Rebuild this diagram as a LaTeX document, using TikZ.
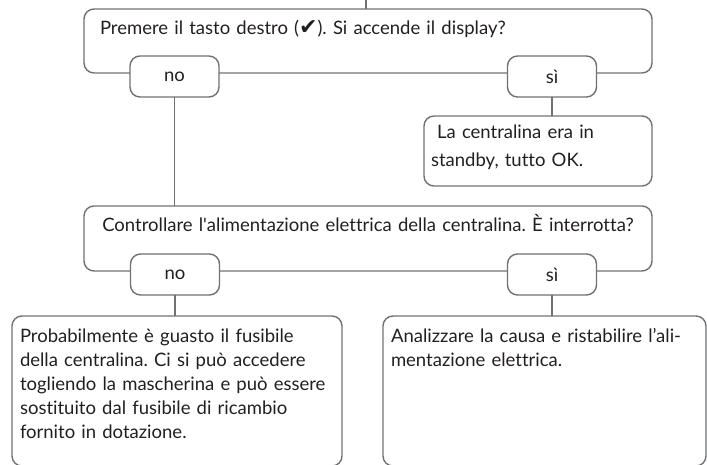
\documentclass[tikz,border=0pt]{standalone}
\usepackage{fontspec}
\setmainfont{Lato}[Ligatures={TeX,NoCommon}]
\newfontfamily\checkfont{DejaVu Sans}
\usepackage{xcolor}
\definecolor{flowgray}{HTML}{707173}
\definecolor{flowtext}{HTML}{231F20}
\tikzset{every node/.style={font=\fontsize{18.5}{24}\selectfont, text=flowtext}}
\frenchspacing

\begin{document}
\begin{tikzpicture}[
    x=1pt, y=-1pt,
    panel/.style={draw=flowgray, line width=1.4pt, rounded corners=10pt,
      anchor=north west, outer sep=0pt, inner xsep=16pt, inner ysep=12pt,
      text height=14pt, align=left},
    answer/.style={draw=flowgray, fill=white, line width=1.4pt,
      rounded corners=10pt, minimum width=89pt, minimum height=41pt,
      inner sep=0pt, outer sep=0pt},
    link/.style={draw=flowgray, line width=1.4pt},
  ]
  \useasboundingbox (0,0) rectangle (707,465);
  \clip (0,0) rectangle (707,465);

  % question boxes
  \coordinate (start) at (366,0);
  \node[panel, text width=536pt, text depth=26pt] (q1) at (84,9)
    {Premere il tasto destro ({\checkfont\fontsize{22}{24}\selectfont\char"2714}). Si accende il display?};
  \node[panel, text width=536pt, text depth=27pt, align=center] (q2) at (84,206)
    {Controllare l\textquotesingle alimentazione elettrica della centralina. È interrotta?};

  % answer boxes
  \node[panel, inner xsep=7pt, inner ysep=9pt, text width=214pt, text depth=38pt,
    font=\fontsize{18.5}{28}\selectfont] (standby) at (424,116)
    {\ La centralina era in\\standby, tutto OK.};
  \node[panel, inner xsep=8pt, text width=314pt, text depth=112pt] (fuse) at (12,316)
    {Probabilmente è guasto il fusibile\\
     della centralina. Ci si può accedere\\
     togliendo la mascherina e può essere\\
     sostituito dal fusibile di ricambio\\
     fornito in dotazione.};
  \node[panel, inner xsep=8pt, text width=307pt, text depth=112pt] (supply) at (383,316)
    {Analizzare la causa e ristabilire l’ali-\\mentazione elettrica.};

  % yes / no buttons
  \node[answer] (no1) at (174.5,76.5) {no};
  \node[answer] (si1) at (552,76.5) {sì};
  \node[answer] (no2) at (175,274.5) {no};
  \node[answer] (si2) at (552,274.5) {sì};

  % connectors
  \draw[link] (start) -- (start |- q1.north);
  \draw[link] (no1.south) -- (no1.south |- q2.north);
  \draw[link] (si1.south) -- (si1.south |- standby.north);
  \draw[link] (no2.south) -- (no2.south |- fuse.north);
  \draw[link] (si2.south) -- (si2.south |- supply.north);
\end{tikzpicture}
\end{document}
